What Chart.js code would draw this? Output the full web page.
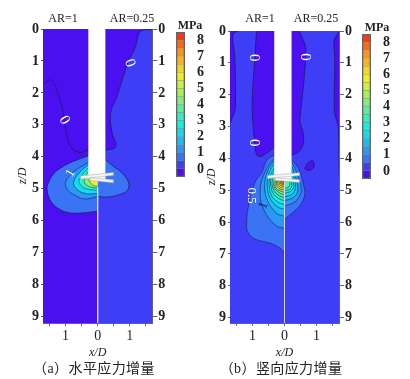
<!DOCTYPE html>
<html>
<head>
<meta charset="utf-8">
<script src="https://cdn.jsdelivr.net/npm/chart.js@4"></script>
<style>
html, body { margin: 0; padding: 0; background: #fff; overflow: hidden; }
body { position: relative; width: 410px; height: 379px; font-family: "Liberation Serif", serif; color: #222; filter: blur(0.35px); }
canvas { position: absolute; }
.t { position: absolute; white-space: nowrap; transform: translate(-50%, -50%); font-size: 12px; }
.b { font-weight: bold; }
.cap { font-family: "Liberation Serif", "Noto Sans CJK SC", sans-serif; font-size: 14px; letter-spacing: 0.4px; }
</style>
</head>
<body>
<canvas id="panelA" width="205" height="360" style="left:0;top:0"></canvas>
<canvas id="panelB" width="165" height="360" style="left:195px;top:0"></canvas>
<canvas id="barA" width="34" height="165" style="left:176px;top:22px"></canvas>
<canvas id="barB" width="34" height="165" style="left:362px;top:24px"></canvas>

<div class="t" style="left:63px;top:18px">AR=1</div>
<div class="t" style="left:132px;top:18px">AR=0.25</div>
<div class="t" style="left:260px;top:18px">AR=1</div>
<div class="t" style="left:316px;top:18px">AR=0.25</div>
<div class="t b" style="left:190px;top:25px">MPa</div>
<div class="t b" style="left:377px;top:27px">MPa</div>
<div class="t cap" style="left:94px;top:367px">（a）水平应力增量</div>
<div class="t cap" style="left:281px;top:367px">（b）竖向应力增量</div>

<script>
// axes
var depthTicks = [0, 1, 2, 3, 4, 5, 6, 7, 8, 9];
var offsetTicks = [-1.5, -1, -0.5, 0, 0.5, 1, 1.5];
var barTicks = [0, 1, 2, 3, 4, 5, 6, 7, 8];

// colour scale, one cell per 0.5 MPa from -0.5 to 8.5
var barEdges = [-0.5, 0, 0.5, 1, 1.5, 2, 2.5, 3, 3.5, 4, 4.5, 5, 5.5, 6, 6.5, 7, 7.5, 8, 8.5];
var barColors = ['#4a10f0', '#3e3ef6', '#3a74f4', '#2a98f4', '#1cbcf2', '#12dcf0', '#14f0e0', '#30f0c0',
    '#58f09c', '#80f078', '#a8f054', '#ccf03c', '#f0ee20', '#f8d420', '#f8b420', '#f89420', '#f86a1c', '#f83a14'];

// panel a, contours as [x/D, z/D], left half has negative x
var aZeroLeft = [[-1.7, 1.72], [-1.45, 1.6], [-1.25, 1.96], [-1.09, 2.53], [-0.97, 3.26], [-0.84, 3.68], [-0.58, 3.86], [-0.29, 3.78]];
var aZeroRight = [[1.71, 0.02], [1.43, 0.03], [1.28, 0.14], [1.18, 0.55], [0.97, 0.97], [0.81, 1.44], [0.6, 2.11], [0.4, 2.64], [0.45, 3.26], [0.56, 3.68], [0.24, 3.8]];
var aLeft05 = [[-0.3, 3.97], [-0.6, 4.08], [-0.89, 4.2], [-1.15, 4.35], [-1.35, 4.51], [-1.53, 4.8], [-1.57, 5.05], [-1.45, 5.4], [-1.25, 5.6], [-0.94, 5.74], [-0.5, 5.76], [0, 5.7]];
var aLeft10 = [[-0.3, 4.18], [-0.73, 4.46], [-0.99, 4.77], [-0.94, 5.03], [-0.73, 5.19], [-0.42, 5.32], [0, 5.24]];
var aLeft15 = [[-0.3, 4.25], [-0.58, 4.51], [-0.75, 4.8], [-0.68, 4.98], [-0.42, 5.14], [0, 5.15]];
var aLeft20 = [[-0.3, 4.35], [-0.47, 4.56], [-0.58, 4.77], [-0.42, 4.98], [0, 5.05]];
var aLeft25 = [[-0.3, 4.45], [-0.42, 4.77], [-0.27, 4.93], [0, 4.98]];
var aLeft30 = [[-0.3, 4.7], [-0.16, 4.88], [0, 4.93]];
var aRight05 = [[0.24, 4.09], [0.5, 4.3], [0.76, 4.51], [0.97, 4.82], [0.92, 5.05], [0.66, 5.19], [0.3, 5.26], [0, 5.24]];

// panel b, same way
var bOuterLeft = [[-1.45, 0], [-1.61, 0.1], [-1.55, 0.84], [-1.53, 2.3], [-1.55, 2.5], [-1.7, 2.9]];
var bInnerLeft = [[-0.875, 0], [-0.925, 0.84], [-1.01, 2.3], [-0.98, 2.93], [-0.925, 3.55], [-0.875, 3.87], [-0.77, 3.95], [-0.51, 3.8], [-0.32, 3.65]];
var bInnerRight = [[0.46, 0], [0.656, 0.52], [0.64, 1.15], [0.53, 2.3], [0.51, 2.5], [0.48, 2.86], [0.58, 3.18], [0.58, 3.55], [0.43, 3.8], [0.22, 3.9]];
var bOuterRight = [[1.71, 0], [1.55, 0.31], [1.57, 0.84], [1.55, 2.3], [1.57, 2.6], [1.68, 3.03], [1.7, 3.87], [1.71, 4.6]];
var bBlob = [[0.63, 4.32], [0.73, 4.14], [0.88, 4.08], [0.92, 4.24], [0.84, 4.36], [0.7, 4.37], [0.63, 4.32]];
var bLeftLevels = [
    [[-0.32, 3.9], [-0.55, 4.05], [-0.7, 4.43], [-0.92, 4.75], [-1.12, 5.48], [-1.18, 6.0], [-1.15, 6.3], [-0.95, 6.52], [-0.4, 6.68], [-0.1, 6.85], [0, 7.0]],
    [[-0.32, 4.0], [-0.6, 4.4], [-0.76, 5.0], [-0.65, 5.6], [-0.28, 6.1], [0, 6.2]],
    [[-0.32, 4.08], [-0.53, 4.4], [-0.62, 4.9], [-0.52, 5.35], [-0.25, 5.72], [0, 5.82]],
    [[-0.32, 4.18], [-0.48, 4.45], [-0.54, 4.85], [-0.45, 5.25], [-0.22, 5.52], [0, 5.6]],
    [[-0.32, 4.3], [-0.44, 4.55], [-0.48, 4.85], [-0.4, 5.18], [-0.2, 5.38], [0, 5.45]],
    [[-0.32, 4.42], [-0.42, 4.62], [-0.43, 4.85], [-0.35, 5.1], [-0.18, 5.26], [0, 5.33]],
    [[-0.32, 4.55], [-0.38, 4.7], [-0.38, 4.87], [-0.3, 5.05], [-0.15, 5.18], [0, 5.23]],
    [[-0.33, 4.7], [-0.33, 4.88], [-0.26, 5.0], [-0.13, 5.1], [0, 5.14]],
    [[-0.29, 4.7], [-0.29, 4.88], [-0.22, 4.98], [-0.11, 5.03], [0, 5.07]],
    [[-0.25, 4.7], [-0.24, 4.86], [-0.18, 4.94], [-0.09, 4.98], [0, 5.0]],
    [[-0.21, 4.7], [-0.2, 4.84], [-0.14, 4.9], [-0.06, 4.93], [0, 4.94]],
    [[-0.17, 4.7], [-0.16, 4.82], [-0.1, 4.86], [0, 4.89]],
    [[-0.13, 4.7], [-0.12, 4.8], [-0.06, 4.83], [0, 4.85]],
    [[-0.09, 4.7], [-0.08, 4.78], [0, 4.81]],
    [[-0.05, 4.7], [-0.04, 4.76], [0, 4.77]]
];
var bRightLevels = [
    [[0.22, 4.03], [0.44, 4.33], [0.62, 4.95], [0.62, 5.2], [0.45, 5.52], [0.2, 5.75], [0, 5.92]],
    [[0.22, 4.1], [0.38, 4.45], [0.52, 4.95], [0.46, 5.2], [0.3, 5.38], [0, 5.5]],
    [[0.22, 4.25], [0.33, 4.55], [0.42, 4.95], [0.36, 5.15], [0.2, 5.27], [0, 5.32]],
    [[0.22, 4.4], [0.3, 4.65], [0.34, 4.9], [0.28, 5.08], [0.14, 5.17], [0, 5.2]],
    [[0.22, 4.6], [0.28, 4.77], [0.28, 4.92], [0.2, 5.03], [0.1, 5.07], [0, 5.1]],
    [[0.22, 4.72], [0.22, 4.9], [0.15, 4.98], [0.07, 5.0], [0, 5.01]],
    [[0.16, 4.72], [0.16, 4.86], [0.09, 4.92], [0, 4.93]]
];

// pile and its two plates
var aColumn = [[-0.29, 0], [0.24, 0], [0.24, 4.74], [-0.29, 4.66]];
var aPlates = [
    [[-0.53, 4.6], [0.49, 4.49], [0.49, 4.58], [-0.53, 4.69]],
    [[-0.22, 4.65], [0.49, 4.72], [0.49, 4.81], [-0.22, 4.74]]
];
var bColumn = [[-0.32, 0], [0.22, 0], [0.22, 4.7], [-0.32, 4.62]];
var bPlates = [
    [[-0.53, 4.54], [0.47, 4.45], [0.47, 4.54], [-0.53, 4.63]],
    [[-0.29, 4.6], [0.47, 4.67], [0.47, 4.76], [-0.29, 4.69]]
];

// contour labels
var aNotes = [
    { text: '0', x: 1.0, y: 1.07, rot: 70, color: '#fff', size: 15 },
    { text: '0', x: -1.04, y: 2.86, rot: 60, color: '#fff', size: 15 },
    { text: '1', x: -0.84, y: 4.51, rot: -60, color: '#fff', size: 13 }
];
var bNotes = [
    { text: '0', x: -0.94, y: 0.84, rot: 90, color: '#fff', size: 15 },
    { text: '0', x: -0.94, y: 3.51, rot: 90, color: '#fff', size: 15 },
    { text: '0', x: 0.65, y: 0.82, rot: 90, color: '#fff', size: 15 },
    { text: '0.5', x: -1.02, y: 5.17, rot: 90, color: '#fff', size: 13 },
    { text: '1', x: -0.66, y: 5.48, rot: -70, color: '#1a1a60', size: 13 }
];

var INK = '#1a1a66';
var AXIS = '#666';

function pts(list) {
    return list.map(function (p) { return { x: p[0], y: p[1] }; });
}

// repeated points keep the corners sharp when the curve is smoothed
function closed(curve, corners) {
    var out = curve.slice();
    out.push(curve[curve.length - 1]);
    corners.forEach(function (c) { out.push(c, c); });
    out.push(curve[0], curve[0]);
    return out;
}

function addFill(list, curve, corners, color) {
    list.push({ data: pts(closed(curve, corners)), showLine: true, fill: 'shape', backgroundColor: color, borderWidth: 0, pointRadius: 0, tension: 0.4 });
}

function addLine(list, curve, width) {
    list.push({ data: pts(curve), showLine: true, fill: false, borderColor: INK, borderWidth: width || 0.8, pointRadius: 0, tension: 0.4 });
}

function addContour(list, curve, corners, color, width) {
    addFill(list, curve, corners, color);
    addLine(list, curve, width);
}

function addPile(list, column, plates) {
    list.push({ data: pts(column), showLine: true, fill: 'shape', backgroundColor: '#fff', borderWidth: 0, pointRadius: 0, tension: 0 });
    plates.forEach(function (p) {
        list.push({ data: pts(p.concat([p[0]])), showLine: true, fill: 'shape', backgroundColor: '#f4f4f4', borderColor: '#aaa', borderWidth: 0.5, pointRadius: 0, tension: 0 });
    });
}

function addCentre(list, from, to) {
    list.push({ data: pts([[0, from], [0, to]]), showLine: true, fill: false, borderColor: '#d8d8ff', borderWidth: 1, pointRadius: 0, tension: 0 });
}

var notesPlugin = {
    id: 'notes',
    afterDatasetsDraw: function (chart, args, opts) {
        var ctx = chart.ctx;
        opts.items.forEach(function (n) {
            ctx.save();
            ctx.translate(chart.scales.x.getPixelForValue(n.x), chart.scales.y.getPixelForValue(n.y));
            ctx.rotate(n.rot * Math.PI / 180);
            ctx.font = n.size + 'px "Liberation Serif"';
            ctx.fillStyle = n.color;
            ctx.textAlign = 'center';
            ctx.textBaseline = 'middle';
            ctx.fillText(n.text, 0, 0);
            ctx.restore();
        });
    }
};

function fixWidth(w) {
    return function (s) { s.width = w; s.paddingTop = 0; s.paddingBottom = 0; s.paddingLeft = 0; s.paddingRight = 0; };
}

function depthAxis(position, width, maxZ, titleGap) {
    var axis = {
        position: position, reverse: true, min: 0, max: maxZ,
        afterBuildTicks: function (s) { s.ticks = depthTicks.map(function (v) { return { value: v }; }); },
        afterFit: fixWidth(width),
        border: { color: AXIS, width: 1 },
        grid: { drawOnChartArea: false, color: AXIS, tickLength: position === 'left' ? 2 : 5 },
        ticks: { color: '#222', padding: position === 'left' ? 2 : 1, autoSkip: false, maxRotation: 0, font: { family: 'Liberation Serif', size: 14, weight: 'bold' } }
    };
    if (titleGap !== null) {
        axis.title = { display: true, text: 'z/D', color: '#222', padding: { top: titleGap, bottom: 0 }, font: { family: 'Liberation Serif', size: 12, style: 'italic' } };
    }
    return axis;
}

function drawPanel(id, datasets, notes, top, leftW, rightW, maxZ, titleGap) {
    new Chart(document.getElementById(id), {
        type: 'scatter',
        data: { datasets: datasets.slice().reverse() },
        plugins: [notesPlugin],
        options: {
            responsive: false,
            animation: false,
            layout: { padding: { top: top, left: 0, right: 0, bottom: 0 } },
            plugins: { legend: { display: false }, tooltip: { enabled: false }, notes: { items: notes } },
            scales: {
                x: {
                    type: 'linear', min: -1.7, max: 1.7,
                    afterBuildTicks: function (s) { s.ticks = offsetTicks.map(function (v) { return { value: v }; }); },
                    afterFit: function (s) { s.height = 37; s.paddingLeft = 0; s.paddingRight = 0; },
                    border: { color: AXIS, width: 1 },
                    grid: { drawOnChartArea: false, color: AXIS, tickLength: 3 },
                    ticks: {
                        color: '#222', padding: 2, autoSkip: false, maxRotation: 0,
                        font: { family: 'Liberation Serif', size: 14 },
                        callback: function (v) { return Number.isInteger(v) ? Math.abs(v) : ''; }
                    },
                    title: { display: true, text: 'x/D', color: '#222', padding: { top: 0, bottom: 0 }, font: { family: 'Liberation Serif', size: 12, style: 'italic' } }
                },
                y: depthAxis('left', leftW, maxZ, titleGap),
                y2: depthAxis('right', rightW, maxZ, null)
            }
        }
    });
}

function drawBar(id) {
    var cells = barColors.map(function (c, i) {
        return { data: [[barEdges[i], barEdges[i + 1]]], backgroundColor: c, borderColor: 'rgba(80,80,80,0.5)', borderWidth: 0.5, borderSkipped: false, barPercentage: 1, categoryPercentage: 1, grouped: false, order: 1 };
    });
    // outline round the whole bar
    cells.push({ data: [[barEdges[0], barEdges[barEdges.length - 1]]], backgroundColor: 'rgba(0,0,0,0)', borderColor: AXIS, borderWidth: 1, borderSkipped: false, barPercentage: 1, categoryPercentage: 1, grouped: false, order: 0 });
    new Chart(document.getElementById(id), {
        type: 'bar',
        data: { labels: ['MPa'], datasets: cells },
        options: {
            responsive: false,
            animation: false,
            layout: { padding: { top: 10, bottom: 10, left: 0, right: 0 } },
            plugins: { legend: { display: false }, tooltip: { enabled: false } },
            scales: {
                x: { display: false },
                y: {
                    position: 'right', min: -0.5, max: 8.5,
                    afterBuildTicks: function (s) { s.ticks = barTicks.map(function (v) { return { value: v }; }); },
                    afterFit: fixWidth(25),
                    border: { display: false },
                    grid: { display: false },
                    ticks: { color: '#222', padding: 4, autoSkip: false, font: { family: 'Liberation Serif', size: 14, weight: 'bold' } }
                }
            }
        }
    });
}

// panel a, drawn back to front
var a = [];
addFill(a, [[-1.7, 0], [0, 0]], [[0, 9.2], [-1.7, 9.2]], barColors[0]);
addFill(a, [[0, 0], [1.7, 0]], [[1.7, 9.2], [0, 9.2]], barColors[1]);
addFill(a, aZeroRight, [[0, 3.8], [0, 0]], barColors[0]);
addLine(a, aZeroRight);
addLine(a, aZeroLeft);
addContour(a, aLeft05, [[0, 3.9]], barColors[2]);
addContour(a, aRight05, [[0, 4.0]], barColors[2]);
addContour(a, aLeft10, [[0, 4.1]], barColors[3], 0.6);
addContour(a, aLeft15, [[0, 4.2]], barColors[5], 0.6);
addContour(a, aLeft20, [[0, 4.3]], barColors[7], 0.5);
addContour(a, aLeft25, [[0, 4.4]], barColors[9], 0.5);
addContour(a, aLeft30, [[0, 4.6]], barColors[12], 0.5);
addCentre(a, 4.95, 9.2);
addPile(a, aColumn, aPlates);

// panel b
var b = [];
addFill(b, [[-1.7, 0], [1.7, 0]], [[1.7, 9.17], [-1.7, 9.17]], barColors[1]);
addContour(b, bOuterLeft, [[-1.7, 0]], barColors[0]);
addContour(b, bOuterRight, [[1.71, 0]], barColors[0]);
addContour(b, bInnerLeft, [[0, 3.65], [0, 0]], barColors[0]);
addContour(b, bInnerRight, [[0, 3.9], [0, 0]], barColors[0]);
addContour(b, bBlob, [], barColors[0]);
bLeftLevels.forEach(function (c, i) {
    addContour(b, c, [[0, 3.8]], barColors[i + 2], 0.6);
});
bRightLevels.forEach(function (c, i) {
    addContour(b, c, [[0, 3.9]], barColors[i + 2], 0.6);
});
addCentre(b, 4.75, 9.17);
addPile(b, bColumn, bPlates);

drawPanel('panelA', a, aNotes, 29, 43, 52.7, 9.2, 16);
drawPanel('panelB', b, bNotes, 31, 35, 21, 9.17, 10);
drawBar('barA');
drawBar('barB');
</script>
</body>
</html>
